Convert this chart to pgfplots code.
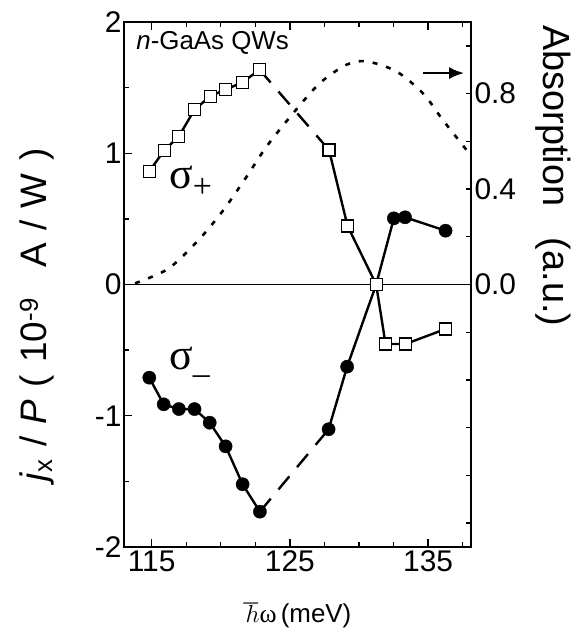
\documentclass[border=0pt]{standalone}
\usepackage{fontspec}
\setmainfont{Liberation Sans}
\newfontfamily\grk{Liberation Serif}
\usepackage{pgfplots}
\pgfplotsset{compat=1.18}
\usetikzlibrary{arrows.meta}

\begin{document}
\begin{tikzpicture}
\begin{axis}[
  name=main,
  scale only axis, width=347bp, height=525bp,
  xmin=113, xmax=138.1, ymin=-2, ymax=2,
  xtick={115,125,135}, minor xtick={117.5,120,122.5,127.5,130,132.5,137.5},
  ytick={-2,-1,0,1,2}, yticklabels={-2,-1,0,1,2}, minor ytick={-1.5,-0.5,0.5,1.5},
  xtick pos=both, ytick pos=left, xticklabel pos=lower, tick align=inside,
  major tick length=8bp, minor tick length=5bp,
  every tick/.style={black, line width=1.3bp},
  axis line style={line width=1.5bp},
  /pgf/number format/assume math mode=true,
  tick label style={font=\fontsize{30}{34}\selectfont},
  yticklabel style={xshift=1bp},
  xlabel={$\hbar${\grk ω}\,(meV)},
  every axis x label/.style={at={(rel axis cs:0.5,-0.144)}, anchor=base, font=\fontsize{26}{30}\selectfont},
  ylabel={\textit{j}\textsubscript{x}\,\,/\,\,\textit{P}\,\,(\,\,10\textsuperscript{-9}\ \ \ A\,\,/\,\,W\,\,)},
  every axis y label/.style={at={(rel axis cs:-0.222,0.442)}, anchor=base, rotate=90, font=\fontsize{37}{40}\selectfont},
]
\addplot[black, line width=1.5bp] coordinates {(113,0) (138.1,0)};
% sigma+ lines
\addplot[black, line width=2.4bp] coordinates {
(114.83,0.862) (115.91,1.022) (116.97,1.129) (118.10,1.332) (119.23,1.434) (120.32,1.484) (121.58,1.540) (122.80,1.637)};
\addplot[black, line width=2.4bp, dash pattern=on 17bp off 12bp] coordinates {(122.80,1.637) (127.83,1.025)};
\addplot[black, line width=2.4bp] coordinates {
(127.83,1.025) (129.17,0.446) (131.24,0) (131.92,-0.453) (133.37,-0.453) (136.26,-0.339)};
% sigma- lines
\addplot[black, line width=2.4bp] coordinates {
(114.83,-0.710) (115.87,-0.913) (116.97,-0.949) (118.10,-0.949) (119.20,-1.053) (120.35,-1.233) (121.58,-1.522) (122.83,-1.731)};
\addplot[black, line width=2.4bp, dash pattern=on 17bp off 12bp] coordinates {(122.83,-1.731) (127.80,-1.103)};
\addplot[black, line width=2.4bp] coordinates {
(127.80,-1.103) (129.14,-0.626) (131.24,0) (132.52,0.504) (133.33,0.512) (136.26,0.410)};
% markers
\addplot[only marks, mark=*, mark size=6.6bp, black] coordinates {
(114.83,-0.710) (115.87,-0.913) (116.97,-0.949) (118.10,-0.949) (119.20,-1.053) (120.35,-1.233) (121.58,-1.522) (122.83,-1.731)
(127.80,-1.103) (129.14,-0.626) (132.52,0.504) (133.33,0.512) (136.26,0.410)};
\addplot[only marks, mark=square*, mark size=6bp, mark options={fill=white, draw=black, line width=1.1bp}] coordinates {
(114.83,0.862) (115.91,1.022) (116.97,1.129) (118.10,1.332) (119.23,1.434) (120.32,1.484) (121.58,1.540) (122.80,1.637)
(127.83,1.025) (129.17,0.446) (131.24,0) (131.92,-0.453) (133.37,-0.453) (136.26,-0.339)};
\node[anchor=base west, font=\fontsize{26}{30}\selectfont, inner sep=0pt] at (rel axis cs:0.035,0.9467) {\textit{n}-GaAs QWs};
\node[anchor=base west, inner sep=0pt] at (axis cs:116.25,0.735) {\fontsize{44}{46}\grk σ\raisebox{-9bp}{\fontsize{34}{34}\selectfont +}};
\node[anchor=base west, inner sep=0pt] at (axis cs:116.25,-0.651) {\fontsize{44}{46}\grk σ\raisebox{-15bp}{\fontsize{34}{34}\selectfont –}};
\end{axis}
\begin{axis}[
  scale only axis, width=347bp, height=525bp,
  xmin=113, xmax=138.1, ymin=-1.1, ymax=1.1,
  axis y line*=right, axis x line=none, tick align=inside,
  ytick={0,0.4,0.8}, minor ytick={-1,-0.8,-0.6,-0.4,-0.2,0.2,0.6,1},
  major tick length=5bp, minor tick length=5bp,
  every tick/.style={black, line width=1.3bp},
  axis line style={line width=1.5bp},
  /pgf/number format/assume math mode=true,
  yticklabel style={/pgf/number format/.cd, fixed, fixed zerofill, precision=1},
  tick label style={font=\fontsize{30}{34}\selectfont},
  ylabel={Absorption\ \ \ (a.u.)},
  every axis y label/.style={at={(rel axis cs:1.2075,0.707)}, anchor=base, rotate=-90, font=\fontsize{38}{42}\selectfont},
]
\addplot[black, line width=2.6bp, dash pattern=on 5bp off 9bp, smooth] coordinates {
(113.8,0.005) (116.2,0.066) (118.37,0.185) (120.18,0.311) (121.87,0.452) (123.31,0.578) (125.24,0.718) (127.17,0.844) (129.1,0.921) (130.54,0.935) (132.7,0.893) (134.64,0.80) (136.08,0.688) (138.1,0.54)};
\draw[line width=2.2bp, -{Latex[length=15bp,width=12bp]}] (axis cs:134.64,0.886) -- (axis cs:137.6,0.886);
\end{axis}
\pgfresetboundingbox
\path[use as bounding box] (-124bp,-84bp) rectangle (449bp,547bp);
\end{tikzpicture}
\end{document}
